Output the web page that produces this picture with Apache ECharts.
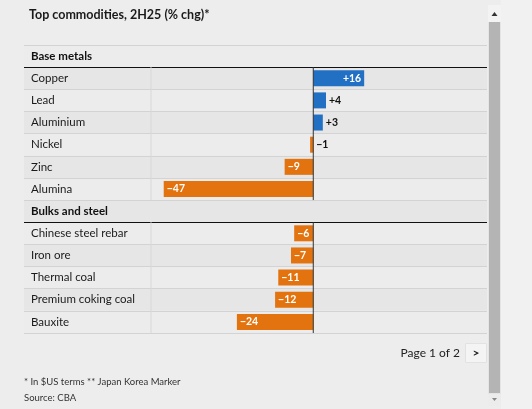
<!DOCTYPE html>
<html>
<head>
<meta charset="utf-8">
<script src="https://cdn.jsdelivr.net/npm/echarts@6/dist/echarts.min.js"></script>
<style>
html,body{margin:0;padding:0;background:#ededed;}
#c{width:532px;height:409px;}
</style>
</head>
<body>
<div id="c"></div>
<script>
// ---- data ----
const categories = ['Base metals','Copper','Lead','Aluminium','Nickel','Zinc','Alumina','Bulks and steel','Chinese steel rebar','Iron ore','Thermal coal','Premium coking coal','Bauxite'];
const values = [null,16,4,3,-1,-9,-47,null,-6,-7,-11,-12,-24];
const headers = ['Base metals','Bulks and steel'];
const titleText = 'Top commodities, 2H25 (% chg)*';
const footnote = '* In $US terms ** Japan Korea Marker';
const source = 'Source: CBA';
const pageText = 'Page 1 of 2';

// ---- layout / style ----
const FONT = 'Lato, "Open Sans", sans-serif';
const L = 24, R = 487, TOP = 45, H = 288, COL = 151;
const XMIN = -51, XMAX = 54.6;
const BLUE = '#2270c4', ORANGE = '#e2730f';

const lineColors = categories.map((c, i) => headers.includes(categories[i - 1]) ? '#111' : '#d3d3d3');
lineColors.push('#d3d3d3');

const chart = echarts.init(document.getElementById('c'), null, {renderer: 'canvas'});

const fmt = v => (v > 0 ? '+' : '\u2212') + Math.abs(v);

const barData = values.map(v => {
  if (v == null) return '-';
  const inside = Math.abs(v) >= 6;
  return {
    value: v,
    itemStyle: {color: v >= 0 ? BLUE : ORANGE},
    label: {
      show: true,
      position: inside ? (v >= 0 ? 'insideRight' : 'insideLeft') : 'right',
      distance: 3,
      color: inside ? '#fff' : '#111',
      fontWeight: 'bold',
      fontSize: 10.5,
      fontFamily: FONT,
      formatter: () => fmt(v)
    }
  };
});

const yAxisBase = (gi) => ({
  type: 'category',
  gridIndex: gi,
  data: categories,
  inverse: true,
  axisLine: {show: false},
  axisTick: {show: false},
  splitArea: {show: true, areaStyle: {color: ['#ececec', '#e6e6e6']}},
  splitLine: {show: true, lineStyle: {color: lineColors, width: 1}},
});

chart.setOption({
  backgroundColor: '#ededed',
  animation: false,
  title: {
    text: titleText, left: L, top: 3,
    textStyle: {fontFamily: FONT, fontSize: 12.5, fontWeight: 'bold', color: '#1a1a1a'}
  },
  grid: [
    {left: L, top: TOP, width: COL - L, height: H},
    {left: COL, top: TOP, width: R - COL, height: H}
  ],
  xAxis: [
    {type: 'value', gridIndex: 0, show: false, min: 0, max: 1},
    {type: 'value', gridIndex: 1, show: false, min: XMIN, max: XMAX}
  ],
  yAxis: [
    Object.assign(yAxisBase(0), {
      axisLabel: {
        inside: true, margin: 7, fontFamily: FONT, fontSize: 11.5, color: '#1a1a1a',
        formatter: v => headers.includes(v) ? '{h|' + v + '}' : v,
        rich: {h: {fontFamily: FONT, fontSize: 11.5, fontWeight: 'bold', color: '#111'}}
      }
    }),
    Object.assign(yAxisBase(1), {axisLabel: {show: false}})
  ],
  series: [{
    type: 'bar',
    xAxisIndex: 1, yAxisIndex: 1,
    barWidth: 16,
    data: barData
  }]
});

// decorations: zero line and column separator across data rows only
function decorate() {
  const x0 = chart.convertToPixel({xAxisIndex: 1}, 0);
  const band = H / categories.length;
  const els = [];
  let start = null;
  for (let i = 0; i <= categories.length; i++) {
    const isData = i < categories.length && !headers.includes(categories[i]);
    if (isData && start === null) start = i;
    if (!isData && start !== null) {
      const yc1 = chart.convertToPixel({yAxisIndex: 1}, categories[start]);
      const yc2 = chart.convertToPixel({yAxisIndex: 1}, categories[i - 1]);
      const y1 = yc1 - band / 2, y2 = yc2 + band / 2;
      els.push({type: 'line', z: 100, shape: {x1: x0, y1: y1, x2: x0, y2: y2}, style: {stroke: '#333', lineWidth: 1}});
      els.push({type: 'line', z: 5, shape: {x1: COL, y1: y1, x2: COL, y2: y2}, style: {stroke: '#d8d8d8', lineWidth: 1}});
      start = null;
    }
  }
  // page nav
  els.push({type: 'text', style: {text: pageText, x: 460, y: 353, align: 'right', verticalAlign: 'middle', font: '12px ' + FONT, fill: '#222'}});
  els.push({type: 'rect', shape: {x: 465.5, y: 343.5, width: 21, height: 19}, style: {fill: '#f4f4f4', stroke: '#e2e2e2'}});
  els.push({type: 'text', style: {text: '>', x: 476, y: 353, align: 'center', verticalAlign: 'middle', font: 'bold 12px ' + FONT, fill: '#222'}});
  // footnotes
  els.push({type: 'text', style: {text: footnote, x: L, y: 382, verticalAlign: 'middle', font: '9.5px ' + FONT, fill: '#333'}});
  els.push({type: 'text', style: {text: source, x: L, y: 398, verticalAlign: 'middle', font: '9.5px ' + FONT, fill: '#333'}});
  // scrollbar
  els.push({type: 'rect', shape: {x: 501, y: 0, width: 31, height: 409}, style: {fill: '#f1f1f1'}});
  els.push({type: 'rect', shape: {x: 488, y: 5, width: 13, height: 401}, style: {fill: '#e4e4e4'}});
  els.push({type: 'rect', shape: {x: 488, y: 5, width: 13, height: 17}, style: {fill: '#f3f3f3'}});
  els.push({type: 'polygon', shape: {points: [[491.5, 16], [497.5, 16], [494.5, 12]]}, style: {fill: '#333'}});
  els.push({type: 'rect', shape: {x: 489, y: 22, width: 11, height: 371}, style: {fill: '#b4b4b4'}});
  els.push({type: 'rect', shape: {x: 488, y: 394, width: 13, height: 12}, style: {fill: '#ececec'}});
  els.push({type: 'polygon', shape: {points: [[492, 398], [497, 398], [494.5, 401]]}, style: {fill: '#888'}});
  chart.setOption({graphic: {elements: els}});
}
decorate();
</script>
</body>
</html>
